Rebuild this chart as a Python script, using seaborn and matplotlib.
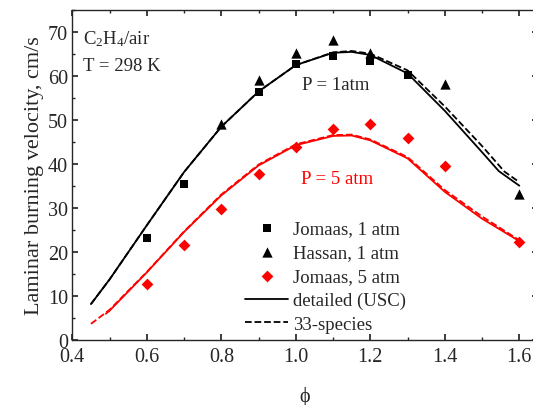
"""
plot.py - laminar burning velocity of C2H4/air, 1 atm and 5 atm.
"""

import matplotlib
matplotlib.use("Agg")
import matplotlib.pyplot as plt
from matplotlib.ticker import MultipleLocator
import seaborn as sns

# ── Data ──────────────────────────────────────────────────────────────────────
jom1_phi = [0.6, 0.7, 0.9, 1.0, 1.1, 1.2, 1.3]
jom1_su  = [23.1, 35.3, 56.3, 62.6, 64.4, 63.4, 60.1]

hassan_phi = [0.8, 0.9, 1.0, 1.1, 1.2, 1.4, 1.6]
hassan_su  = [49.1, 59.0, 65.2, 68.0, 65.1, 58.0, 33.2]

jom5_phi = [0.6, 0.7, 0.8, 0.9, 1.0, 1.1, 1.2, 1.3, 1.4, 1.6]
jom5_su  = [12.6, 21.6, 29.8, 37.7, 43.9, 47.9, 49.0, 45.9, 39.5, 22.2]

usc1_phi = [0.45, 0.5, 0.6, 0.7, 0.8, 0.9, 1.0, 1.1, 1.15, 1.2, 1.3, 1.4, 1.5, 1.545, 1.6]
usc1_su  = [8.1, 13.7, 26.0, 38.1, 48.4, 56.4, 62.4, 65.2, 65.4, 64.7, 60.5, 52.0, 42.6, 38.3, 35.0]

red1_phi = [0.45, 0.5, 0.6, 0.7, 0.8, 0.9, 1.0, 1.1, 1.15, 1.2, 1.3, 1.4, 1.5, 1.56, 1.6]
red1_su  = [8.1, 13.7, 26.0, 38.1, 48.4, 56.4, 62.4, 65.3, 65.6, 65.0, 61.2, 53.0, 44.0, 38.2, 35.8]

usc5_phi = [0.49, 0.5, 0.6, 0.7, 0.8, 0.9, 1.0, 1.1, 1.15, 1.2, 1.3, 1.4, 1.5, 1.6]
usc5_su  = [5.9, 6.6, 15.3, 24.5, 32.8, 39.6, 44.2, 46.3, 46.4, 45.3, 41.2, 33.6, 27.5, 22.4]

red5_phi = [0.45, 0.5, 0.6, 0.7, 0.8, 0.9, 1.0, 1.1, 1.15, 1.2, 1.3, 1.4, 1.5, 1.6]
red5_su  = [3.6, 6.8, 15.4, 24.6, 33.0, 39.8, 44.4, 46.5, 46.6, 45.5, 41.5, 34.0, 28.0, 22.6]

RED = "#FF0000"

# ── Style ─────────────────────────────────────────────────────────────────────
sns.set_theme(style="ticks")
plt.rcParams.update({
    "font.family": ["Liberation Serif", "DejaVu Serif"],
    "mathtext.fontset": "custom",
    "mathtext.rm": "Liberation Serif",
    "mathtext.it": "Liberation Serif:italic",
    "axes.linewidth": 1.0,
    "xtick.direction": "in", "ytick.direction": "in",
    "xtick.top": True, "ytick.right": True,
    "xtick.major.size": 4, "ytick.major.size": 4,
    "xtick.minor.size": 2.5, "ytick.minor.size": 2.5,
    "xtick.labelsize": 14.5, "ytick.labelsize": 14.5,
    "xtick.major.pad": 5.5, "ytick.major.pad": 3,
})

fig = plt.figure(figsize=(5.33, 4.06), dpi=100)
ax = fig.add_axes([0.1357, 0.1608, 0.8736, 0.8130])

# ── Model curves ──────────────────────────────────────────────────────────────
sns.lineplot(x=usc1_phi, y=usc1_su, ax=ax, color="black", lw=1.3,
             sort=False, estimator=None, label="detailed (USC)")
sns.lineplot(x=red1_phi, y=red1_su, ax=ax, color="black", lw=1.3,
             linestyle="--", sort=False, estimator=None, label="33-species")
sns.lineplot(x=usc5_phi, y=usc5_su, ax=ax, color=RED, lw=1.3,
             sort=False, estimator=None, label="_usc5")
sns.lineplot(x=red5_phi, y=red5_su, ax=ax, color=RED, lw=1.3,
             linestyle="--", sort=False, estimator=None, label="_red5")

# ── Experiments ───────────────────────────────────────────────────────────────
sns.scatterplot(x=jom1_phi, y=jom1_su, ax=ax, marker="s", color="black",
                s=36, linewidth=0, label="Jomaas, 1 atm", zorder=3)
sns.scatterplot(x=hassan_phi, y=hassan_su, ax=ax, marker="^", color="black",
                s=55, linewidth=0, label="Hassan, 1 atm", zorder=3)
sns.scatterplot(x=jom5_phi, y=jom5_su, ax=ax, marker="D", color=RED,
                s=36, linewidth=0, label="Jomaas, 5 atm", zorder=3)

ax.set_xlim(0.4, 1.65)
ax.set_ylim(0, 75)
ax.xaxis.set_major_locator(MultipleLocator(0.2))
ax.xaxis.set_minor_locator(MultipleLocator(0.1))
ax.yaxis.set_major_locator(MultipleLocator(10))
ax.yaxis.set_minor_locator(MultipleLocator(5))
ax.tick_params(which="both", top=True, right=True, direction="in")
ax.set_xlabel("ϕ", fontsize=14.5, labelpad=14)
ax.set_ylabel("Laminar burning velocity, cm/s", fontsize=16, labelpad=3)

# annotations
ax.text(0.429, 68.5, r"C$_\mathrm{2}$H$_\mathrm{4}$/air", fontsize=13.5, va="center")
ax.text(0.429, 62.3, "T = 298 K", fontsize=13.5, va="center")
ax.text(1.108, 57.9, "P = 1atm", fontsize=13.5, ha="center", va="center")
ax.text(1.11, 36.6, "P = 5 atm", fontsize=13.5, ha="center", va="center", color=RED)

handles, labels = ax.get_legend_handles_labels()
order = ["Jomaas, 1 atm", "Hassan, 1 atm", "Jomaas, 5 atm", "detailed (USC)", "33-species"]
hmap = dict(zip(labels, handles))
ax.legend([hmap[k] for k in order], order, loc="upper left",
          bbox_to_anchor=(0.371, 0.362), frameon=False, fontsize=13.5,
          handlelength=2.3, handletextpad=0.27, labelspacing=0.36,
          borderpad=0, borderaxespad=0)

fig.savefig("out.png", dpi=100)
plt.close()
